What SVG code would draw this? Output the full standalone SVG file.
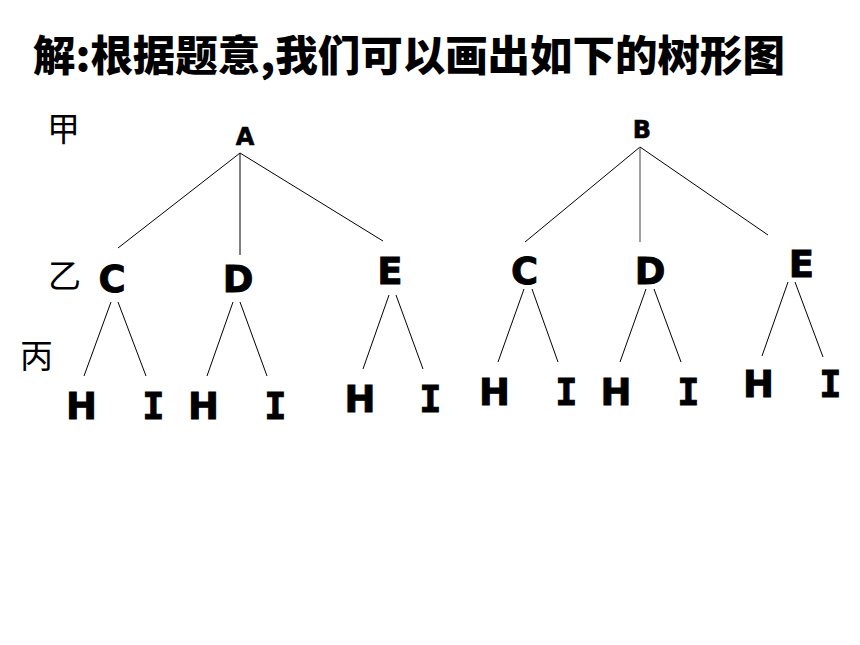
<svg xmlns="http://www.w3.org/2000/svg" width="860" height="645" viewBox="0 0 860 645">
<style>
.t{font-family:"Noto Sans CJK SC","Noto Sans",sans-serif;font-weight:900;font-size:42px;fill:#000}
.lv{font-family:"Noto Sans CJK SC",sans-serif;font-weight:400;font-size:33px;fill:#000}
.n{font-family:"DejaVu Sans",Verdana,sans-serif;font-weight:bold;font-size:37px;fill:#000;stroke:#000;stroke-width:0.9;text-anchor:middle}
.i{font-family:"DejaVu Sans Mono","Liberation Mono",monospace}
.r{font-size:24px;stroke-width:0.6}
.e line{stroke:#000;stroke-width:1}
</style>
<rect width="860" height="645" fill="#fff"/>
<text class="t" x="33" y="71" textLength="752" lengthAdjust="spacingAndGlyphs">解:根据题意,我们可以画出如下的树形图</text>
<g id="levels">
<text class="lv" x="47" y="141">甲</text>
<text class="lv" x="48" y="288">乙</text>
<text class="lv" x="20" y="368">丙</text>
</g>
<g id="connectors" class="e">
<line x1="240" y1="153" x2="118" y2="248"/>
<line x1="240" y1="153" x2="240" y2="255"/>
<line x1="240" y1="153" x2="383" y2="241"/>
<line x1="111" y1="302" x2="84" y2="376"/>
<line x1="118" y1="302" x2="146" y2="376"/>
<line x1="233" y1="302" x2="207" y2="376"/>
<line x1="240" y1="302" x2="267" y2="376"/>
<line x1="389" y1="295" x2="363" y2="369"/>
<line x1="396" y1="295" x2="423" y2="369"/>
<line x1="640" y1="147" x2="525" y2="242"/>
<line x1="640" y1="147" x2="640" y2="242" style="stroke:#777;stroke-width:1.4"/>
<line x1="640" y1="147" x2="768" y2="235"/>
<line x1="524" y1="289" x2="498" y2="362"/>
<line x1="532" y1="289" x2="558" y2="362"/>
<line x1="646" y1="289" x2="620" y2="362"/>
<line x1="654" y1="289" x2="681" y2="362"/>
<line x1="788" y1="282" x2="762" y2="356"/>
<line x1="795" y1="282" x2="823" y2="357"/>
</g>
<g id="A"><text class="n r" x="245" y="145">A</text></g>
<g id="B"><text class="n r" x="642" y="138">B</text></g>
<g id="C1"><text class="n" x="112" y="292">C</text></g>
<g id="D1"><text class="n" x="238" y="292">D</text></g>
<g id="E1"><text class="n" x="390" y="284">E</text></g>
<g id="H1"><text class="n" x="81.5" y="419">H</text></g>
<g id="I1"><text class="n i" x="153.5" y="419">I</text></g>
<g id="H2"><text class="n" x="203.5" y="419">H</text></g>
<g id="I2"><text class="n i" x="275.5" y="419">I</text></g>
<g id="H3"><text class="n" x="360" y="412">H</text></g>
<g id="I3"><text class="n i" x="430.5" y="412">I</text></g>
<g id="C2"><text class="n" x="524.5" y="284">C</text></g>
<g id="D2"><text class="n" x="650" y="284">D</text></g>
<g id="E2"><text class="n" x="801.5" y="277">E</text></g>
<g id="H4"><text class="n" x="494.5" y="405">H</text></g>
<g id="I4"><text class="n i" x="566.5" y="405">I</text></g>
<g id="H5"><text class="n" x="616" y="405">H</text></g>
<g id="I5"><text class="n i" x="688.5" y="405">I</text></g>
<g id="H6"><text class="n" x="758.5" y="397">H</text></g>
<g id="I6"><text class="n i" x="830.5" y="397">I</text></g>
</svg>
